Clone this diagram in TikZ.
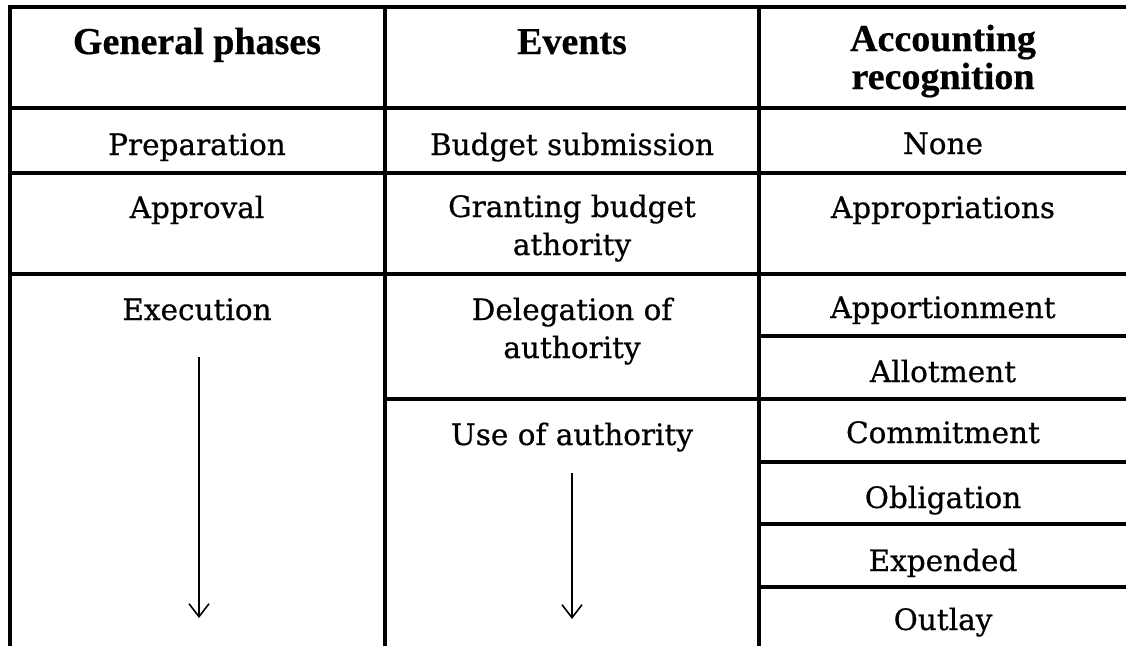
\documentclass[tikz,border=0pt]{standalone}
\usepackage{fontspec}
\setmainfont{DejaVu Serif}[FakeBold=0.6]
\newfontfamily\hdrfont{Liberation Serif}[FakeBold=0.5]
\usetikzlibrary{arrows.meta}
\tikzset{
  grid/.style={line width=3.4pt, line cap=rect},
  hd/.style={anchor=base, inner sep=0pt, font=\hdrfont\bfseries\fontsize{38}{38}\selectfont},
  bd/.style={anchor=base, inner sep=0pt, font=\fontsize{29.5}{29.5}\selectfont},
  flow/.style={line width=1.6pt, -{Straight Barb[length=13pt,width=20pt,line width=1.6pt]}}
}
\begin{document}
\begin{tikzpicture}[x=1pt,y=-1pt]
\useasboundingbox (0,0) rectangle (1126,646);
% grid
\draw[grid] (10,7) -- (1126,7);
\draw[grid] (10,108) -- (1126,108);
\draw[grid] (10,173) -- (1126,173);
\draw[grid] (10,274) -- (1126,274);
\draw[grid] (759,336) -- (1126,336);
\draw[grid] (385,399) -- (1126,399);
\draw[grid] (759,462) -- (1126,462);
\draw[grid] (759,524) -- (1126,524);
\draw[grid] (759,587) -- (1126,587);
\draw[line width=3.4pt] (10,5.3) -- (10,646);
\draw[line width=3.4pt] (385,5.3) -- (385,646);
\draw[line width=3.4pt] (759,5.3) -- (759,646);
% headers
\node[hd] (h1) at (197,54) {General phases};
\node[hd] (h2) at (572,54) {Events};
\node[hd] (h3a) at (943,51) {Accounting};
\node[hd] (h3b) at (943,89) {recognition};
% column 1
\node[bd] (prep) at (197,155) {Preparation};
\node[bd] (appr) at (197,218) {Approval};
\node[bd] (exec) at (197,320) {Execution};
% column 2
\node[bd] (bsub) at (572,155) {Budget submission};
\node[bd] (gra) at (572,217) {Granting budget};
\node[bd] (grb) at (572,255) {athority};
\node[bd] (dela) at (572,320) {Delegation of};
\node[bd] (delb) at (572,358) {authority};
\node[bd] (use) at (572,445) {Use of authority};
% column 3
\node[bd] (none) at (943,154) {None};
\node[bd] (appro) at (943,218) {Appropriations};
\node[bd] (appo) at (943,318) {Apportionment};
\node[bd] (allo) at (943,382) {Allotment};
\node[bd] (comm) at (943,443) {Commitment};
\node[bd] (obli) at (943,508) {Obligation};
\node[bd] (expe) at (943,571) {Expended};
\node[bd] (outl) at (943,630) {Outlay};
% arrows
\coordinate (a1s) at (199,357);
\coordinate (a1e) at (199,618);
\coordinate (a2s) at (572,473);
\coordinate (a2e) at (572,619);
\draw[flow] (a1s) -- (a1e);
\draw[flow] (a2s) -- (a2e);
\end{tikzpicture}
\end{document}
